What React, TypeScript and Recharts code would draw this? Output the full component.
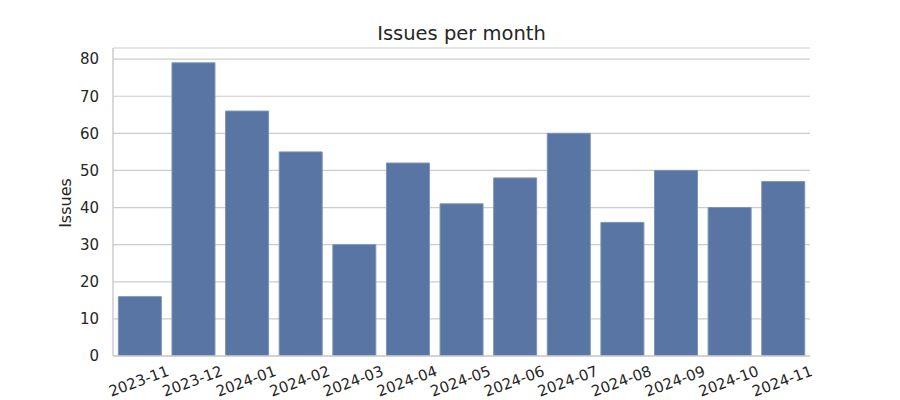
import React from 'react';
import { BarChart, Bar, XAxis, YAxis, CartesianGrid, Customized } from 'recharts';

const months = ['2023-11', '2023-12', '2024-01', '2024-02', '2024-03', '2024-04', '2024-05', '2024-06', '2024-07', '2024-08', '2024-09', '2024-10', '2024-11'];
const issues = [16, 79, 66, 55, 30, 52, 41, 48, 60, 36, 50, 40, 47];
const yTicks = [0, 10, 20, 30, 40, 50, 60, 70, 80];

const data = months.map((m, i) => ({ month: m, issues: issues[i] }));

const FONT = 'DejaVu Sans, sans-serif';
const TEXT = '#262626';

const XTick = (props: any) => {
  const { x, y, payload } = props;
  return (
    <g transform={`translate(${x - 1},${y + 25})`}>
      <text transform="rotate(-20)" textAnchor="middle" dy="0.35em" fontSize={15} fontFamily={FONT} fill={TEXT}>
        {payload.value}
      </text>
    </g>
  );
};

const Overlay = () => (
  <g>
    <text x={461.5} y={34} textAnchor="middle" dominantBaseline="middle" fontSize={19.5} fontFamily={FONT} fill={TEXT}>
      Issues per month
    </text>
    <text transform="translate(66,203) rotate(-90)" textAnchor="middle" dominantBaseline="middle" fontSize={16} fontFamily={FONT} fill={TEXT}>
      Issues
    </text>
  </g>
);

export default function App() {
  return (
    <div style={{ position: 'absolute', left: 0, top: 0, width: 900, height: 400, background: '#fff' }}>
      <BarChart width={900} height={400} data={data} margin={{ top: 48, right: 90, bottom: 0, left: 53 }} barCategoryGap="10%">
        <CartesianGrid vertical={false} stroke="#cccccc" strokeWidth={1.2} />
        <XAxis
          dataKey="month"
          height={44}
          tickLine={false}
          tickSize={0}
          tickMargin={0}
          interval={0}
          axisLine={{ stroke: '#cccccc', strokeWidth: 1.5 }}
          tick={<XTick />}
        />
        <YAxis
          width={60}
          domain={[0, 83]}
          ticks={yTicks}
          allowDataOverflow
          tickLine={false}
          tickSize={0}
          tickMargin={14}
          axisLine={{ stroke: '#cccccc', strokeWidth: 1.5 }}
          tick={{ fontSize: 15, fontFamily: FONT, fill: TEXT }}
        />
        <Bar dataKey="issues" fill="#5875a4" stroke="#7d92b8" strokeWidth={1} isAnimationActive={false} />
        <Customized component={Overlay} />
      </BarChart>
    </div>
  );
}
